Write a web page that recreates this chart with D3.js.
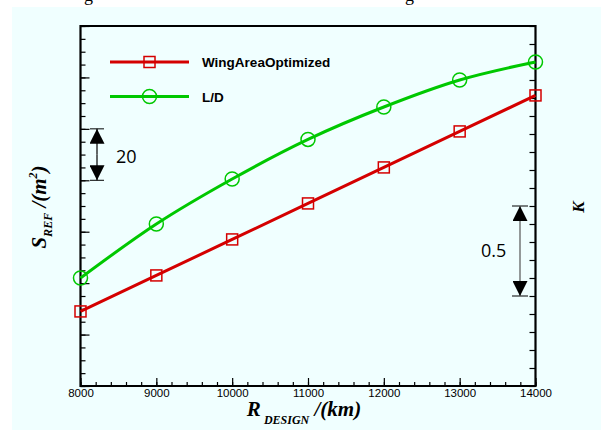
<!DOCTYPE html>
<html>
<head>
<meta charset="utf-8">
<script src="https://cdn.jsdelivr.net/npm/d3@7"></script>
<style>
  body { margin: 0; background: #fff; }
  .tick text { font-family: "Liberation Sans", Arial, sans-serif; }
</style>
</head>
<body>
<div id="chart"></div>
<script>
var svgWidth = 601;
var svgHeight = 430;

// plot frame
var margin = { top: 26, right: 65.5, bottom: 44, left: 80.5 };
var width = svgWidth - margin.left - margin.right;
var height = svgHeight - margin.top - margin.bottom;

// Data
var range = [8000, 9000, 10000, 11000, 12000, 13000, 14000];
var wingArea = [289, 303, 317, 331, 345, 359, 373];           // S_REF, left axis
var liftDrag = [16.60, 16.90, 17.15, 17.37, 17.55, 17.70, 17.80]; // K, right axis
var xTicks = [8000, 9000, 10000, 11000, 12000, 13000, 14000];
var seriesNames = ["WingAreaOptimized", "L/D"];

var svg = d3.select("#chart")
  .append("svg")
  .attr("width", svgWidth)
  .attr("height", svgHeight);

// pale background panel
svg.append("rect")
  .attr("x", 12).attr("y", 7)
  .attr("width", svgWidth - 12).attr("height", svgHeight - 7)
  .attr("fill", "#f0ffff");

// cut-off caption descenders from the text above
svg.append("text").attr("x", 84).attr("y", 1)
  .style("font-family", "Liberation Serif").style("font-size", "18px").text("g");
svg.append("text").attr("x", 405).attr("y", 1)
  .style("font-family", "Liberation Serif").style("font-size", "18px").text("g");

var chartGroup = svg.append("g")
  .attr("transform", `translate(${margin.left}, ${margin.top})`);

// scales
var xScale = d3.scaleLinear().domain([8000, 14000]).range([0, width]);
var yLeft = d3.scaleLinear().domain([260, 400]).range([height, 0]);
var yRight = d3.scaleLinear().domain([16, 18]).range([height, 0]);

// axes (ticks point inward)
var bottomMinor = d3.axisBottom(xScale).tickValues(d3.range(8000, 14001, 200))
  .tickSize(-4).tickFormat("");
var bottomAxis = d3.axisBottom(xScale).tickValues(xTicks).tickSize(-8)
  .tickPadding(3).tickFormat(d3.format("d"));
var leftMinor = d3.axisLeft(yLeft).tickValues(d3.range(260, 401, 5))
  .tickSize(-5).tickFormat("");
var leftAxis = d3.axisLeft(yLeft).tickValues(d3.range(260, 401, 20))
  .tickSize(-9).tickFormat("");
var rightAxis = d3.axisRight(yRight).tickValues(d3.range(16, 18.001, 0.1))
  .tickSize(-6).tickFormat("");

function styleAxis(g) {
  g.selectAll(".domain").remove();
  g.selectAll(".tick line").attr("stroke", "#000").attr("stroke-width", 1.2);
}

chartGroup.append("g").attr("transform", `translate(0, ${height})`).call(bottomMinor).call(styleAxis);
chartGroup.append("g").attr("transform", `translate(0, ${height})`).call(bottomAxis).call(styleAxis)
  .selectAll("text").style("font-size", "11.5px").attr("fill", "#000");
chartGroup.append("g").call(leftMinor).call(styleAxis);
chartGroup.append("g").call(leftAxis).call(styleAxis);
chartGroup.append("g").attr("transform", `translate(${width}, 0)`).call(rightAxis).call(styleAxis);

// frame
chartGroup.append("path")
  .attr("d", `M0,0H${width}V${height}H0Z`)
  .attr("fill", "none").attr("stroke", "#000").attr("stroke-width", 2.2);

// lines
var redColor = "#d40000";
var greenColor = "#00c800";

var redLine = d3.line().x((d, i) => xScale(range[i])).y(d => yLeft(d)).curve(d3.curveMonotoneX);
var greenLine = d3.line().x((d, i) => xScale(range[i])).y(d => yRight(d)).curve(d3.curveMonotoneX);

chartGroup.append("path").datum(wingArea).attr("d", redLine)
  .attr("fill", "none").attr("stroke", redColor).attr("stroke-width", 3);
chartGroup.append("path").datum(liftDrag).attr("d", greenLine)
  .attr("fill", "none").attr("stroke", greenColor).attr("stroke-width", 3);

chartGroup.selectAll(".sq").data(wingArea).enter().append("rect")
  .attr("x", (d, i) => xScale(range[i]) - 5.5)
  .attr("y", d => yLeft(d) - 5.5)
  .attr("width", 11).attr("height", 11)
  .attr("fill", "none").attr("stroke", redColor).attr("stroke-width", 1.5);

chartGroup.selectAll(".ci").data(liftDrag).enter().append("circle")
  .attr("cx", (d, i) => xScale(range[i]))
  .attr("cy", d => yRight(d))
  .attr("r", 7)
  .attr("fill", "none").attr("stroke", greenColor).attr("stroke-width", 1.5);

// legend
var legend = svg.append("g");
legend.append("line").attr("x1", 110).attr("x2", 189).attr("y1", 62).attr("y2", 62)
  .attr("stroke", redColor).attr("stroke-width", 3);
legend.append("rect").attr("x", 144).attr("y", 56.5).attr("width", 11).attr("height", 11)
  .attr("fill", "none").attr("stroke", redColor).attr("stroke-width", 1.5);
legend.append("line").attr("x1", 110).attr("x2", 189).attr("y1", 96.5).attr("y2", 96.5)
  .attr("stroke", greenColor).attr("stroke-width", 3);
legend.append("circle").attr("cx", 149.5).attr("cy", 96.5).attr("r", 7)
  .attr("fill", "none").attr("stroke", greenColor).attr("stroke-width", 1.5);
legend.selectAll("text").data(seriesNames).enter().append("text")
  .attr("x", 202).attr("y", (d, i) => 67 + i * 34.5)
  .style("font-family", "Liberation Sans, Arial, sans-serif")
  .style("font-weight", "bold").style("font-size", "13.5px")
  .text(d => d);

// dimension arrows
svg.append("defs").append("marker")
  .attr("id", "head").attr("viewBox", "0 0 10 10")
  .attr("refX", 10).attr("refY", 5)
  .attr("markerWidth", 15).attr("markerHeight", 15)
  .attr("markerUnits", "userSpaceOnUse")
  .attr("orient", "auto")
  .append("path").attr("d", "M0,0L10,5L0,10Z").attr("fill", "#000");

function dimArrow(x, y1, y2, capHalf, color) {
  svg.append("line").attr("x1", x - capHalf).attr("x2", x + capHalf).attr("y1", y1).attr("y2", y1)
    .attr("stroke", "#000").attr("stroke-width", 1);
  svg.append("line").attr("x1", x - capHalf).attr("x2", x + capHalf).attr("y1", y2).attr("y2", y2)
    .attr("stroke", "#000").attr("stroke-width", 1);
  svg.append("line").attr("x1", x).attr("x2", x).attr("y1", (y1 + y2) / 2).attr("y2", y1)
    .attr("stroke", color).attr("stroke-width", 1.2).attr("marker-end", "url(#head)");
  svg.append("line").attr("x1", x).attr("x2", x).attr("y1", (y1 + y2) / 2).attr("y2", y2)
    .attr("stroke", color).attr("stroke-width", 1.2).attr("marker-end", "url(#head)");
}

var ly = y => margin.top + yLeft(y);
var ry = y => margin.top + yRight(y);
dimArrow(97, ly(360), ly(340), 7, "#000");
dimArrow(520, ry(17.0), ry(16.5), 8, "#555");

svg.append("text").attr("x", 116).attr("y", 163)
  .style("font-family", "Open Sans, sans-serif").style("font-size", "18px").text("20");
svg.append("text").attr("x", 481).attr("y", 257)
  .style("font-family", "Open Sans, sans-serif").style("font-size", "18px").text("0.5");

// axis titles
var xTitle = svg.append("text")
  .attr("x", 304).attr("y", 416)
  .attr("text-anchor", "middle")
  .style("font-family", "Liberation Serif, Times New Roman, serif")
  .style("font-weight", "bold").style("font-style", "italic").style("font-size", "21px");
xTitle.append("tspan").text("R");
xTitle.append("tspan").attr("dy", 8).style("font-size", "12px").text(" DESIGN");
xTitle.append("tspan").attr("dy", -8).text(" /(km)");

var yTitle = svg.append("text")
  .attr("transform", `translate(46, 207) rotate(-90)`)
  .attr("text-anchor", "middle")
  .style("font-family", "Liberation Serif, Times New Roman, serif")
  .style("font-weight", "bold").style("font-style", "italic").style("font-size", "21px");
yTitle.append("tspan").text("S");
yTitle.append("tspan").attr("dy", 6).style("font-size", "12px").text("REF");
yTitle.append("tspan").attr("dy", -6).text(" /(m");
yTitle.append("tspan").attr("dy", -9).style("font-size", "12px").text("2");
yTitle.append("tspan").attr("dy", 9).text(")");

svg.append("text")
  .attr("transform", "translate(584, 207) rotate(-90)")
  .attr("text-anchor", "middle")
  .style("font-family", "Liberation Serif, Times New Roman, serif")
  .style("font-weight", "bold").style("font-style", "italic").style("font-size", "17px")
  .text("K");
</script>
</body>
</html>
